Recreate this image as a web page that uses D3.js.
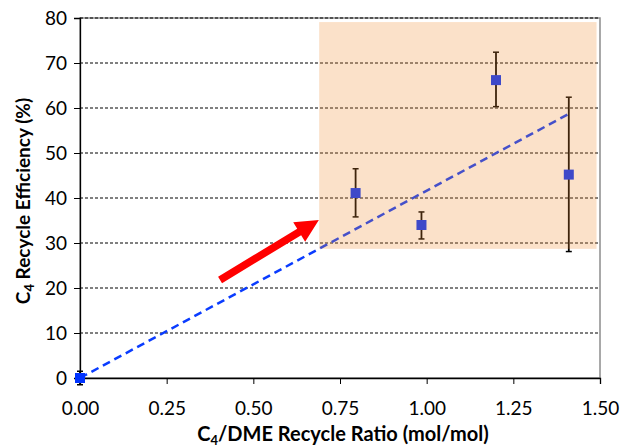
<!DOCTYPE html>
<html>
<head>
<meta charset="utf-8">
<script src="https://cdn.jsdelivr.net/npm/d3@7"></script>
<style>
html,body{margin:0;padding:0;background:#fff;}
svg{display:block;font-family:Lato,"Open Sans",sans-serif;}
</style>
</head>
<body>
<svg id="chart" width="624" height="447"></svg>
<script>
// ---- data ----
const ratio      = [0.00, 0.795, 0.985, 1.20, 1.41];
const efficiency = [0.0, 41.1, 34.0, 66.2, 45.2];
const errHigh    = [1.5, 46.5, 36.9, 72.4, 62.4];
const errLow     = [-1.5, 35.8, 30.9, 60.3, 28.1];
const trendX     = [0.00, 1.41];
const trendY     = [0.0, 58.7];
const xTicks     = [0, 0.25, 0.5, 0.75, 1.0, 1.25, 1.5];
const yTicks     = [0, 10, 20, 30, 40, 50, 60, 70, 80];
const boxX       = [0.69, 1.49];
const boxY       = [28.7, 79.1];
const arrowFrom  = [0.404, 21.8];
const arrowTo    = [0.689, 35.1];

const svg = d3.select("#chart");
const L = 80, R = 600, T = 18, B = 378;
const x = d3.scaleLinear().domain([0, 1.5]).range([L, R]);
const y = d3.scaleLinear().domain([0, 80]).range([B, T]);

// plot border (grey)
svg.append("rect").attr("x", L).attr("y", T).attr("width", R - L).attr("height", B - T)
  .attr("fill", "none").attr("stroke", "#8c8c8c").attr("stroke-width", 1.5);

// gridlines
svg.append("g").selectAll("line").data(yTicks.filter(d => d > 0)).join("line")
  .attr("x1", L).attr("x2", R).attr("y1", d => y(d)).attr("y2", d => y(d))
  .attr("stroke", "#000").attr("stroke-width", 1).attr("stroke-dasharray", "3,2");

// axes
const xAxis = svg.append("g").attr("transform", `translate(0,${B})`)
  .call(d3.axisBottom(x).tickValues(xTicks).tickFormat(d3.format(".2f")).tickSizeOuter(0).tickSize(6));
const yAxis = svg.append("g").attr("transform", `translate(${L},0)`)
  .call(d3.axisLeft(y).tickValues(yTicks).tickFormat(d3.format("d")).tickSizeOuter(0).tickSize(6));
[xAxis, yAxis].forEach(g => {
  g.select(".domain").attr("stroke", "#000").attr("stroke-width", 1.3);
  g.selectAll(".tick line").attr("stroke", "#000").attr("stroke-width", 1);
  g.selectAll(".tick text").attr("fill", "#000").attr("font-size", 19)
   .attr("font-family", "Lato,'Open Sans',sans-serif");
});
xAxis.selectAll(".tick text").attr("dy", "0").attr("y", 37);
yAxis.selectAll(".tick text").attr("x", -13).attr("dy", "0.35em");

// trend line
svg.append("path")
  .attr("d", d3.line().x(d => x(d[0])).y(d => y(d[1]))(trendX.map((v, i) => [v, trendY[i]])))
  .attr("fill", "none").attr("stroke", "#0a3cff").attr("stroke-width", 2.5)
  .attr("stroke-dasharray", "8,5");

// error bars
const eb = svg.append("g");
ratio.forEach((r, i) => {
  eb.append("line").attr("x1", x(r)).attr("x2", x(r)).attr("y1", y(errLow[i])).attr("y2", y(errHigh[i]))
    .attr("stroke", "#000").attr("stroke-width", 1.8);
  [errLow[i], errHigh[i]].forEach(v => {
    eb.append("line").attr("x1", x(r) - 3).attr("x2", x(r) + 3).attr("y1", y(v)).attr("y2", y(v))
      .attr("stroke", "#000").attr("stroke-width", 1.5);
  });
});

// markers
svg.append("g").selectAll("rect").data(ratio).join("rect")
  .attr("x", (d) => x(d) - 5).attr("y", (d, i) => y(efficiency[i]) - 5)
  .attr("width", 10).attr("height", 10).attr("fill", "#0033ff");

// translucent highlight box
svg.append("rect")
  .attr("x", x(boxX[0])).attr("y", y(boxY[1]))
  .attr("width", x(boxX[1]) - x(boxX[0])).attr("height", y(boxY[0]) - y(boxY[1]))
  .attr("fill", "rgb(240,140,45)").attr("fill-opacity", 0.26);

// arrow
(function(){
  const x0 = x(arrowFrom[0]), y0 = y(arrowFrom[1]), x1 = x(arrowTo[0]), y1 = y(arrowTo[1]);
  const dx = x1 - x0, dy = y1 - y0, len = Math.hypot(dx, dy);
  const ux = dx / len, uy = dy / len, nx = -uy, ny = ux;
  const headL = 23, headW = 11.5, shaftW = 3.8;
  const bx = x1 - ux * headL, by = y1 - uy * headL;
  const pts = [
    [x0 + nx * shaftW, y0 + ny * shaftW],
    [bx + nx * shaftW, by + ny * shaftW],
    [bx + nx * headW, by + ny * headW],
    [x1, y1],
    [bx - nx * headW, by - ny * headW],
    [bx - nx * shaftW, by - ny * shaftW],
    [x0 - nx * shaftW, y0 - ny * shaftW]
  ];
  svg.append("polygon").attr("points", pts.map(p => p.join(",")).join(" ")).attr("fill", "#ff0000");
})();

// axis titles
const xt = svg.append("text").attr("x", 343).attr("y", 441).attr("text-anchor", "middle")
  .attr("font-size", 20).attr("font-weight", "bold").attr("fill", "#000");
xt.append("tspan").text("C");
xt.append("tspan").attr("font-size", 13).attr("dy", 4).text("4");
xt.append("tspan").attr("dy", -4).text("/DME Recycle Ratio (mol/mol)");

const yt = svg.append("text").attr("transform", "translate(30,201) rotate(-90)").attr("text-anchor", "middle")
  .attr("font-size", 19).attr("font-weight", "bold").attr("fill", "#000");
yt.append("tspan").text("C");
yt.append("tspan").attr("font-size", 13).attr("dy", 4).text("4");
yt.append("tspan").attr("dy", -4).text(" Recycle Efficiency (%)");
</script>
</body>
</html>
